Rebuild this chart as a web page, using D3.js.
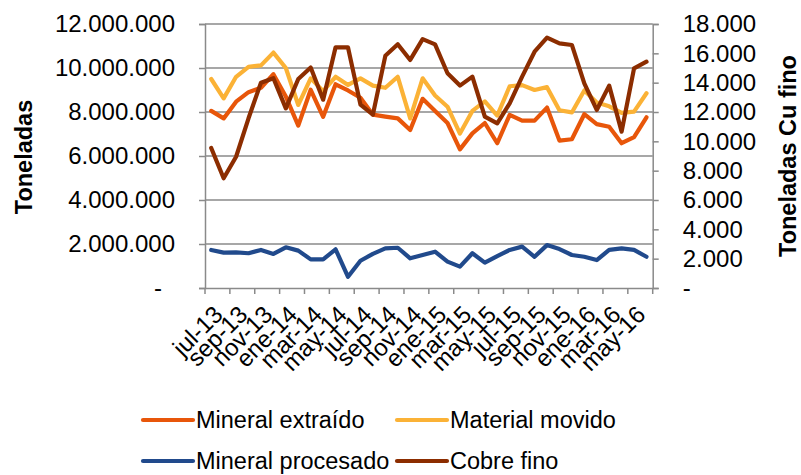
<!DOCTYPE html>
<html>
<head>
<meta charset="utf-8">
<script src="https://cdn.jsdelivr.net/npm/d3@7"></script>
<style>
  html, body { margin: 0; padding: 0; background: #ffffff; }
  svg { display: block; font-family: "Liberation Sans", Arial, sans-serif; }
</style>
</head>
<body>
<svg id="chart" width="801" height="475"></svg>
<script>
// Monthly categories, jul-13 .. jun-16
const months = ["ene","feb","mar","abr","may","jun","jul","ago","sep","oct","nov","dic"];
const categories = [];
for (let k = 0; k < 36; k++) {
  const m = (6 + k) % 12, y = 13 + Math.floor((6 + k) / 12);
  categories.push(months[m] + "-" + y);
}

// Tonnes (left axis)
const mineralExtraido = [8050000, 7710000, 8470000, 8900000, 9100000, 9720000, 8700000, 7380000, 9010000, 7780000,
  9260000, 8980000, 8650000, 7880000, 7790000, 7710000, 7180000, 8600000, 8050000, 7500000,
  6300000, 7030000, 7500000, 6580000, 7870000, 7610000, 7610000, 8200000, 6700000, 6760000,
  7900000, 7450000, 7330000, 6580000, 6860000, 7760000];
const materialMovido = [9500000, 8620000, 9600000, 10050000, 10120000, 10700000, 10000000, 8320000, 9530000, 8950000,
  9600000, 9230000, 9530000, 9200000, 9100000, 9600000, 7710000, 9530000, 8750000, 8240000,
  7020000, 8050000, 8480000, 7840000, 9170000, 9220000, 9000000, 9130000, 8080000, 7980000,
  8980000, 8430000, 8260000, 7960000, 8020000, 8850000];
const mineralProcesado = [1730000, 1610000, 1620000, 1580000, 1730000, 1550000, 1850000, 1700000, 1300000, 1300000,
  1760000, 510000, 1240000, 1550000, 1800000, 1830000, 1350000, 1500000, 1650000, 1200000,
  970000, 1580000, 1150000, 1450000, 1730000, 1880000, 1420000, 1950000, 1770000, 1500000,
  1420000, 1270000, 1730000, 1800000, 1730000, 1420000];
// Tonnes of fine copper (right axis)
const cobreFino = [9550, 7480, 8950, 11570, 14000, 14300, 12250, 14250, 15030, 12840,
  16410, 16400, 12500, 11820, 15830, 16620, 15550, 16970, 16610, 14640,
  13800, 14410, 11680, 11230, 12590, 14410, 16110, 17070, 16680, 16570,
  13950, 12140, 13800, 10660, 14980, 15430];

const leftTicks = [0, 2000000, 4000000, 6000000, 8000000, 10000000, 12000000];
const rightTicks = [0, 2000, 4000, 6000, 8000, 10000, 12000, 14000, 16000, 18000];
const xTickLabels = categories.filter((d, i) => i % 2 === 0);

const seriesNames = ["Mineral extraído", "Material movido", "Mineral procesado", "Cobre fino"];
const colors = { "Mineral extraído": "#E8560A", "Material movido": "#FBB236", "Mineral procesado": "#214A8C", "Cobre fino": "#8C2D00" };

const svg = d3.select("#chart");
const plot = { left: 205, right: 652.7, top: 24, bottom: 288 };
const fontSize = 23.5;
const tickFont = 24;
const gridColor = "#8a8a8a";

const x = d3.scaleBand().domain(categories).range([plot.left, plot.right]).paddingInner(0).paddingOuter(0);
const yL = d3.scaleLinear().domain([0, 12000000]).range([plot.bottom, plot.top]);
const yR = d3.scaleLinear().domain([0, 18000]).range([plot.bottom, plot.top]);

const loc = d3.formatLocale({ decimal: ",", thousands: ".", grouping: [3], currency: ["$", ""] });
const fmt = loc.format(",.0f");

// Horizontal gridlines
svg.append("g").selectAll("line").data(leftTicks.slice(1)).join("line")
  .attr("x1", plot.left).attr("x2", plot.right)
  .attr("y1", d => yL(d)).attr("y2", d => yL(d))
  .attr("stroke", gridColor).attr("stroke-width", 1.5);

// Left axis
const gL = svg.append("g").attr("transform", `translate(${plot.left},0)`)
  .call(d3.axisLeft(yL).tickValues(leftTicks).tickSize(6).tickPadding(24).tickFormat(d => d === 0 ? "-" : fmt(d)));
gL.select(".domain").attr("stroke", gridColor).attr("stroke-width", 1.5);
gL.selectAll(".tick line").attr("stroke", gridColor).attr("stroke-width", 1.5);
gL.selectAll(".tick text").attr("font-size", tickFont).attr("fill", "#000").attr("font-family", "Liberation Sans, Arial, sans-serif")
  .attr("dx", d => d === 0 ? -13 : 0);

// Right axis
const gR = svg.append("g").attr("transform", `translate(${plot.right},0)`)
  .call(d3.axisRight(yR).tickValues(rightTicks).tickSize(6).tickPadding(24).tickFormat(d => d === 0 ? "-" : fmt(d)));
gR.select(".domain").attr("stroke", gridColor).attr("stroke-width", 1.5);
gR.selectAll(".tick line").attr("stroke", gridColor).attr("stroke-width", 1.5);
gR.selectAll(".tick text").attr("font-size", tickFont).attr("fill", "#000").attr("font-family", "Liberation Sans, Arial, sans-serif");

// Bottom axis: labels centred on every second month, ticks on band edges
const gB = svg.append("g").attr("transform", `translate(0,${plot.bottom})`)
  .call(d3.axisBottom(x).tickValues(xTickLabels).tickSize(0).tickPadding(0));
gB.select(".domain").attr("stroke", gridColor).attr("stroke-width", 1.5);
gB.selectAll(".tick text")
  .attr("font-size", tickFont).attr("fill", "#000").attr("font-family", "Liberation Sans, Arial, sans-serif")
  .attr("text-anchor", "end")
  .attr("transform", "translate(7,22) rotate(-45)")
  .attr("dy", "0.35em").attr("y", 0).attr("x", 0);
const edges = categories.filter((d, i) => i % 2 === 0).map(d => x(d)).concat([plot.right]);
svg.append("g").selectAll("line").data(edges).join("line")
  .attr("x1", d => d).attr("x2", d => d)
  .attr("y1", plot.bottom).attr("y2", plot.bottom + 6)
  .attr("stroke", gridColor).attr("stroke-width", 1.5);

// Series lines
const cx = d => x(d) + x.bandwidth() / 2;
const lineL = d3.line().x(d => cx(d.c)).y(d => yL(d.v));
const lineR = d3.line().x(d => cx(d.c)).y(d => yR(d.v));
const asPts = arr => arr.map((v, i) => ({ c: categories[i], v }));

const series = [
  { name: "Mineral extraído", pts: asPts(mineralExtraido), gen: lineL },
  { name: "Material movido", pts: asPts(materialMovido), gen: lineL },
  { name: "Mineral procesado", pts: asPts(mineralProcesado), gen: lineL },
  { name: "Cobre fino", pts: asPts(cobreFino), gen: lineR }
];
svg.append("g").selectAll("path").data(series).join("path")
  .attr("d", s => s.gen(s.pts))
  .attr("fill", "none")
  .attr("stroke", s => colors[s.name])
  .attr("stroke-width", 4.2)
  .attr("stroke-linejoin", "round")
  .attr("stroke-linecap", "round");

// Axis titles
svg.append("text").attr("transform", "translate(23.5,157) rotate(-90)")
  .attr("text-anchor", "middle").attr("dy", "0.35em")
  .attr("font-size", fontSize).attr("font-weight", "bold").text("Toneladas");
svg.append("text").attr("transform", "translate(788,156) rotate(-90)")
  .attr("text-anchor", "middle").attr("dy", "0.35em")
  .attr("font-size", fontSize).attr("font-weight", "bold").text("Toneladas Cu fino");

// Legend (2 x 2)
const legendPos = [
  { x: 143, y: 420 }, { x: 397, y: 420 },
  { x: 143, y: 461 }, { x: 397, y: 461 }
];
const lg = svg.append("g").selectAll("g").data(seriesNames).join("g")
  .attr("transform", (d, i) => `translate(${legendPos[i].x},${legendPos[i].y})`);
lg.append("line").attr("x1", 0).attr("x2", 50).attr("y1", 0).attr("y2", 0)
  .attr("stroke", d => colors[d]).attr("stroke-width", 4.2).attr("stroke-linecap", "round");
lg.append("text").attr("x", 53).attr("dy", "0.35em").attr("font-size", fontSize).text(d => d);
</script>
</body>
</html>
